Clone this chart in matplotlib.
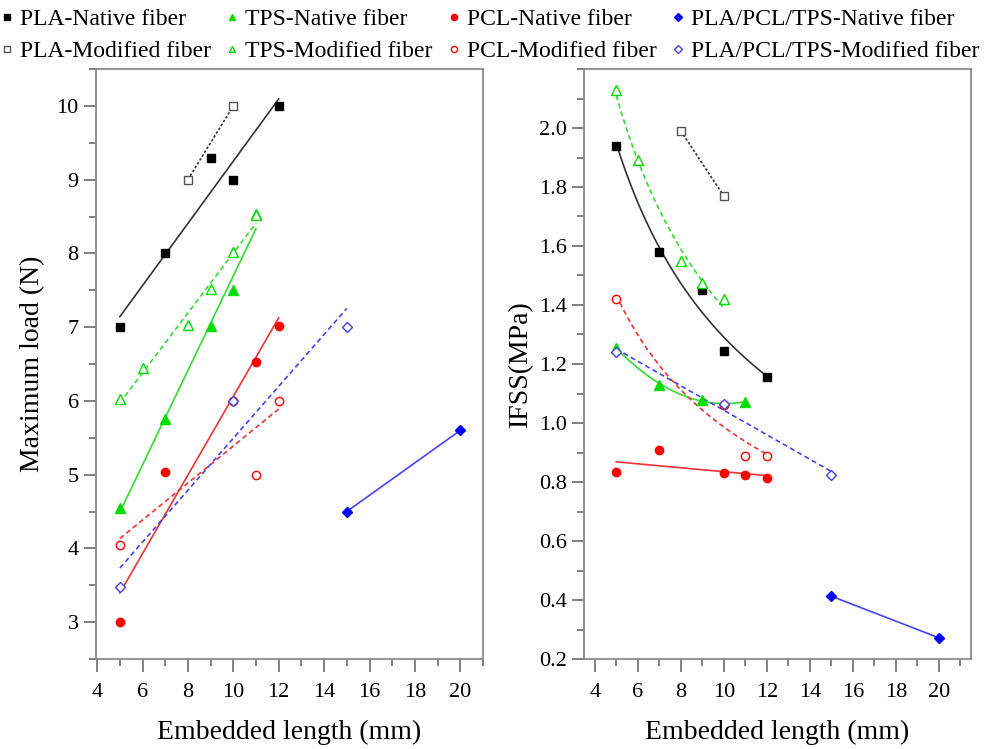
import numpy as np
import matplotlib
matplotlib.use("Agg")
import matplotlib.pyplot as plt
from matplotlib.lines import Line2D
from matplotlib.ticker import MultipleLocator

plt.rcParams['font.family'] = ['Liberation Serif', 'DejaVu Serif']

# ---------------- data: Maximum load (N) ----------------
load_pla_nat_x = [5, 7, 9, 10, 12]
load_pla_nat_y = [7.0, 8.0, 9.3, 9.0, 10.0]
load_pla_mod_x = [8, 10]
load_pla_mod_y = [9.0, 10.0]
load_tps_nat_x = [5, 7, 9, 10, 11]
load_tps_nat_y = [4.55, 5.75, 7.02, 7.5, 8.53]
load_tps_mod_x = [5, 6, 8, 9, 10, 11]
load_tps_mod_y = [6.02, 6.45, 7.03, 7.52, 8.02, 8.52]
load_pcl_nat_x = [5, 7, 11, 12]
load_pcl_nat_y = [3.0, 5.03, 6.53, 7.02]
load_pcl_mod_x = [5, 10, 11, 12]
load_pcl_mod_y = [4.05, 6.0, 5.0, 6.0]
load_mix_nat_x = [15, 20]
load_mix_nat_y = [4.5, 5.6]
load_mix_mod_x = [5, 10, 15]
load_mix_mod_y = [3.48, 6.0, 7.0]

# ---------------- data: IFSS (MPa) ----------------
ifss_pla_nat_x = [5, 7, 9, 10, 12]
ifss_pla_nat_y = [1.94, 1.58, 1.45, 1.245, 1.155]
ifss_pla_mod_x = [8, 10]
ifss_pla_mod_y = [1.99, 1.77]
ifss_tps_nat_x = [5, 7, 9, 11]
ifss_tps_nat_y = [1.255, 1.13, 1.078, 1.071]
ifss_tps_mod_x = [5, 6, 8, 9, 10]
ifss_tps_mod_y = [2.13, 1.89, 1.55, 1.475, 1.42]
ifss_pcl_nat_x = [5, 7, 10, 11, 12]
ifss_pcl_nat_y = [0.833, 0.907, 0.83, 0.825, 0.813]
ifss_pcl_mod_x = [5, 10, 11, 12]
ifss_pcl_mod_y = [1.42, 1.06, 0.887, 0.888]
ifss_mix_nat_x = [15, 20]
ifss_mix_nat_y = [0.413, 0.272]
ifss_mix_mod_x = [5, 10, 15]
ifss_mix_mod_y = [1.24, 1.065, 0.825]

labels = ["PLA-Native fiber", "PLA-Modified fiber",
          "TPS-Native fiber", "TPS-Modified fiber",
          "PCL-Native fiber", "PCL-Modified fiber",
          "PLA/PCL/TPS-Native fiber", "PLA/PCL/TPS-Modified fiber"]

BLACK = '#000000'
GREEN = '#00dd00'
RED = '#ff0000'
BLUE = '#0000ff'
LBLACK = '#333333'
LGREEN = '#33dd33'
LRED = '#ee3333'
LBLUE = '#4444ee'

DOT = (0, (1.5, 1.2))
DASH = (0, (3, 2))

fig = plt.figure(figsize=(9.9, 7.49), dpi=100)
ax1 = fig.add_axes([96/990, 90/749, 387/990, 590/749])
ax2 = fig.add_axes([584/990, 90/749, 387/990, 590/749])


def linfit(ax, x, y, color, ls):
    p = np.polyfit(x, y, 1)
    xx = np.linspace(min(x), max(x), 50)
    ax.plot(xx, np.polyval(p, xx), color=color, ls=ls, lw=1.2, zorder=2)


def powfit(ax, x, y, color, ls):
    p = np.polyfit(np.log(x), np.log(y), 1)
    xx = np.linspace(min(x), max(x), 100)
    ax.plot(xx, np.exp(np.polyval(p, np.log(xx))), color=color, ls=ls, lw=1.2, zorder=2)


def quadfit(ax, x, y, color, ls):
    p = np.polyfit(x, y, 2)
    xx = np.linspace(min(x), max(x), 100)
    ax.plot(xx, np.polyval(p, xx), color=color, ls=ls, lw=1.2, zorder=2)


def pts(ax, x, y, marker, color, filled, ms=6):
    ax.plot(x, y, ls='none', marker=marker, ms=ms,
            mfc=color if filled else 'white', mec=color, mew=1.0, zorder=3)


# ---------- left panel ----------
linfit(ax1, load_pla_nat_x, load_pla_nat_y, LBLACK, '-')
linfit(ax1, load_pla_mod_x, load_pla_mod_y, LBLACK, DOT)
linfit(ax1, load_tps_nat_x, load_tps_nat_y, LGREEN, '-')
linfit(ax1, load_tps_mod_x, load_tps_mod_y, LGREEN, DASH)
linfit(ax1, load_pcl_nat_x, load_pcl_nat_y, LRED, '-')
linfit(ax1, load_pcl_mod_x, load_pcl_mod_y, LRED, DASH)
linfit(ax1, load_mix_nat_x, load_mix_nat_y, LBLUE, '-')
linfit(ax1, load_mix_mod_x, load_mix_mod_y, LBLUE, DASH)

pts(ax1, load_pla_nat_x, load_pla_nat_y, 's', BLACK, True, 5.5)
pts(ax1, load_pla_mod_x, load_pla_mod_y, 's', '#555555', False, 5.5)
pts(ax1, load_tps_nat_x, load_tps_nat_y, '^', GREEN, True, 7)
pts(ax1, load_tps_mod_x, load_tps_mod_y, '^', GREEN, False, 7)
pts(ax1, load_pcl_nat_x, load_pcl_nat_y, 'o', RED, True, 6)
pts(ax1, load_pcl_mod_x, load_pcl_mod_y, 'o', RED, False, 6)
pts(ax1, load_mix_nat_x, load_mix_nat_y, 'D', BLUE, True, 5.5)
pts(ax1, load_mix_mod_x, load_mix_mod_y, 'D', '#4444dd', False, 5.5)

# ---------- right panel ----------
powfit(ax2, ifss_pla_nat_x, ifss_pla_nat_y, LBLACK, '-')
linfit(ax2, ifss_pla_mod_x, ifss_pla_mod_y, LBLACK, DOT)
quadfit(ax2, ifss_tps_nat_x, ifss_tps_nat_y, LGREEN, '-')
powfit(ax2, ifss_tps_mod_x, ifss_tps_mod_y, LGREEN, DASH)
linfit(ax2, ifss_pcl_nat_x, ifss_pcl_nat_y, LRED, '-')
powfit(ax2, ifss_pcl_mod_x, ifss_pcl_mod_y, LRED, DASH)
linfit(ax2, ifss_mix_nat_x, ifss_mix_nat_y, LBLUE, '-')
linfit(ax2, ifss_mix_mod_x, ifss_mix_mod_y, LBLUE, DASH)

pts(ax2, ifss_pla_nat_x, ifss_pla_nat_y, 's', BLACK, True, 5.5)
pts(ax2, ifss_pla_mod_x, ifss_pla_mod_y, 's', '#555555', False, 5.5)
pts(ax2, ifss_tps_nat_x, ifss_tps_nat_y, '^', GREEN, True, 7)
pts(ax2, ifss_tps_mod_x, ifss_tps_mod_y, '^', GREEN, False, 7)
pts(ax2, ifss_pcl_nat_x, ifss_pcl_nat_y, 'o', RED, True, 6)
pts(ax2, ifss_pcl_mod_x, ifss_pcl_mod_y, 'o', RED, False, 6)
pts(ax2, ifss_mix_nat_x, ifss_mix_nat_y, 'D', BLUE, True, 5.5)
pts(ax2, ifss_mix_mod_x, ifss_mix_mod_y, 'D', '#4444dd', False, 5.5)

# ---------- axes styling ----------
ax1.set_xlim(3.95, 21)
ax1.set_ylim(2.5, 10.5)
ax1.set_xticks(range(4, 21, 2))
ax1.xaxis.set_minor_locator(MultipleLocator(1))
ax1.yaxis.set_major_locator(MultipleLocator(1))
ax1.yaxis.set_minor_locator(MultipleLocator(0.5))
ax1.set_xlabel("Embedded length (mm)", fontsize=20, labelpad=13)
ax1.set_ylabel("Maximum load (N)", fontsize=20, labelpad=8)

ax2.set_xlim(3.5, 21.5)
ax2.set_ylim(0.2, 2.2)
ax2.set_xticks(range(4, 21, 2))
ax2.xaxis.set_minor_locator(MultipleLocator(1))
ax2.set_yticks(np.arange(0.2, 2.01, 0.2))
ax2.yaxis.set_minor_locator(MultipleLocator(0.1))
ax2.yaxis.set_major_formatter(matplotlib.ticker.FormatStrFormatter('%.1f'))
ax2.set_xlabel("Embedded length (mm)", fontsize=20, labelpad=13)
ax2.set_ylabel("IFSS(MPa)", fontsize=20, labelpad=4)

for ax in (ax1, ax2):
    for sp in ax.spines.values():
        sp.set_color('#8a8a8a')
        sp.set_linewidth(1.3)
    ax.tick_params(which='major', direction='out', length=9, width=1.2,
                   color='#6a6a6a', labelsize=16, top=False, right=False)
    ax.tick_params(which='minor', direction='out', length=5, width=1.2,
                   color='#6a6a6a', top=False, right=False)
    ax.tick_params(axis='x', pad=8)

# ---------- legend ----------
handles = [
    Line2D([], [], ls='none', marker='s', ms=4.5, mfc=BLACK, mec=BLACK),
    Line2D([], [], ls='none', marker='s', ms=4.5, mfc='white', mec='#555555'),
    Line2D([], [], ls='none', marker='^', ms=5, mfc=GREEN, mec=GREEN),
    Line2D([], [], ls='none', marker='^', ms=5, mfc='white', mec=GREEN),
    Line2D([], [], ls='none', marker='o', ms=4.5, mfc=RED, mec=RED),
    Line2D([], [], ls='none', marker='o', ms=4.5, mfc='white', mec=RED),
    Line2D([], [], ls='none', marker='D', ms=4, mfc=BLUE, mec=BLUE),
    Line2D([], [], ls='none', marker='D', ms=4, mfc='white', mec='#4444dd'),
]
fig.legend(handles, labels, ncol=4, loc='upper left', bbox_to_anchor=(0.0, 1.0 - 6/749),
           frameon=False, fontsize=17, handlelength=0.4, handletextpad=0.35,
           columnspacing=0.7, labelspacing=0.45, borderaxespad=0.0, borderpad=0.1)

fig.savefig("out.png", dpi=100)
